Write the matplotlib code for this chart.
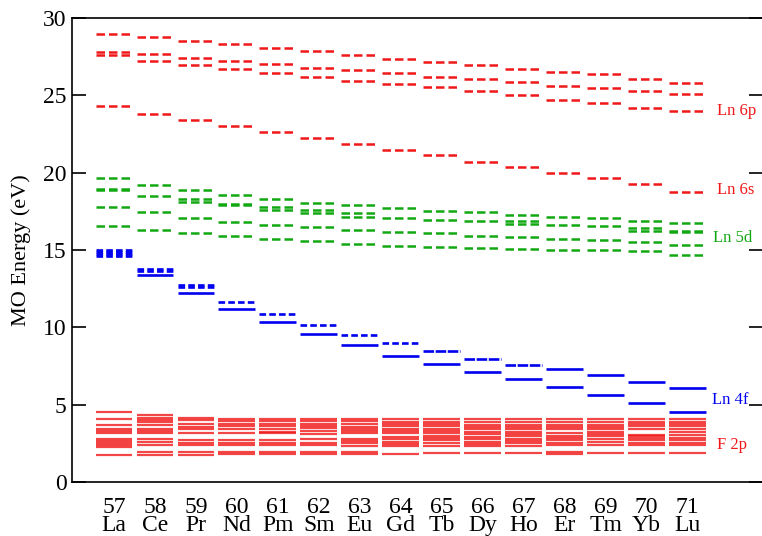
import matplotlib
matplotlib.use("Agg")
import matplotlib.pyplot as plt
import numpy as np

plt.rcParams['font.family'] = ['Liberation Serif', 'DejaVu Serif']

# element numbers and symbols
numbers = [57, 58, 59, 60, 61, 62, 63, 64, 65, 66, 67, 68, 69, 70, 71]
symbols = ['La', 'Ce', 'Pr', 'Nd', 'Pm', 'Sm', 'Eu', 'Gd', 'Tb', 'Dy', 'Ho', 'Er', 'Tm', 'Yb', 'Lu']

# Ln 6p levels (eV)
ln6p = [
    [28.96, 27.82, 27.6],
    [28.79, 27.65, 27.19],
    [28.53, 27.39, 26.96],
    [28.29, 27.19, 26.70],
    [28.03, 27.04, 26.46],
    [27.86, 26.78, 26.20],
    [27.62, 26.61, 25.94],
    [27.37, 26.46, 25.71],
    [27.13, 26.20, 25.53],
    [26.98, 26.03, 25.29],
    [26.70, 25.88, 25.04],
    [26.52, 25.62, 24.71],
    [26.35, 25.45, 24.48],
    [26.03, 25.27, 24.19],
    [25.81, 25.08, 24.00],
]

# Ln 6s levels
ln6s = [24.30, 23.79, 23.38, 23.03, 22.62, 22.22, 21.87, 21.46, 21.12,
        20.69, 20.38, 19.95, 19.63, 19.24, 18.77]

# Ln 5d levels
ln5d = [
    [19.63, 18.95, 18.88, 17.80, 16.55],
    [19.22, 18.51, 17.43, 16.31],
    [18.88, 18.30, 18.12, 17.05, 16.08],
    [18.55, 17.98, 17.92, 16.83, 15.90],
    [18.29, 17.78, 17.60, 16.63, 15.73],
    [18.06, 17.56, 17.38, 16.46, 15.60],
    [17.91, 17.36, 17.16, 16.29, 15.38],
    [17.69, 17.09, 16.14, 15.28],
    [17.52, 16.94, 16.08, 15.21],
    [17.43, 16.87, 15.90, 15.15],
    [17.26, 16.87, 16.71, 15.82, 15.06],
    [17.15, 16.59, 15.73, 15.00],
    [17.05, 16.55, 15.64, 15.00],
    [16.89, 16.43, 16.23, 15.53, 14.91],
    [16.76, 16.22, 16.14, 15.32, 14.67],
]

# Ln 4f levels: upper (dashed-looking) and lower (solid)
ln4f_upper = [
    [15.00, 14.88, 14.75, 14.62],
    [13.75, 13.62],
    [12.72, 12.60],
    [11.66],
    [10.88],
    [10.15],
    [9.48],
    [8.97],
    [8.49],
    [7.93],
    [7.56],
    [7.28],
    [6.92],
    [6.48],
    [6.06],
]
ln4f_lower = [
    [],
    [13.38],
    [12.20],
    [11.20],
    [10.34],
    [9.55],
    [8.84],
    [8.14],
    [7.63],
    [7.09],
    [6.64],
    [6.12],
    [5.62],
    [5.13],
    [4.55],
]

# F 2p levels
f2p = [
    [4.55, 4.05, 3.70, 3.40, 3.28, 3.15, 2.78, 2.65, 2.52, 2.40, 2.28, 1.75],
    [4.35, 4.15, 4.00, 3.85, 3.68, 3.45, 3.30, 3.20, 2.75, 2.60, 2.40, 1.92, 1.75],
    [4.15, 4.00, 3.72, 3.55, 3.40, 3.20, 2.72, 2.55, 2.40, 1.92, 1.75],
    [4.05, 3.95, 3.78, 3.60, 3.42, 3.20, 2.72, 2.55, 2.40, 1.95, 1.80],
    [4.05, 3.95, 3.78, 3.60, 3.45, 3.25, 3.20, 2.72, 2.55, 2.40, 1.95, 1.80],
    [4.05, 3.92, 3.78, 3.65, 3.50, 3.30, 3.10, 2.75, 2.55, 2.40, 1.95, 1.80],
    [4.05, 3.95, 3.75, 3.55, 3.45, 3.30, 3.15, 2.80, 2.65, 2.50, 2.35, 1.95, 1.80],
    [4.05, 3.90, 3.75, 3.60, 3.45, 3.30, 3.15, 2.90, 2.75, 2.60, 2.45, 2.30, 1.80],
    [4.05, 3.90, 3.75, 3.60, 3.45, 3.30, 3.15, 3.00, 2.85, 2.70, 2.55, 2.35, 1.85],
    [4.05, 3.85, 3.70, 3.55, 3.40, 3.25, 3.10, 2.90, 2.75, 2.60, 2.45, 2.30, 1.85],
    [4.05, 3.85, 3.70, 3.55, 3.40, 3.25, 3.10, 2.95, 2.80, 2.65, 2.50, 2.30, 1.85],
    [4.05, 3.85, 3.70, 3.55, 3.40, 3.20, 3.00, 2.85, 2.70, 2.55, 2.40, 1.92, 1.80],
    [4.05, 3.85, 3.70, 3.55, 3.40, 3.25, 3.10, 2.95, 2.80, 2.60, 2.40, 1.85],
    [4.05, 3.90, 3.75, 3.60, 3.45, 3.05, 2.95, 2.85, 2.70, 2.55, 2.40, 1.85],
    [4.05, 3.90, 3.75, 3.60, 3.45, 3.25, 3.05, 2.85, 2.70, 2.55, 2.40, 1.85],
]

# group labels on the right
group_names = ['Ln 6p', 'Ln 6s', 'Ln 5d', 'Ln 4f', 'F 2p']
group_label_y = [24.0, 18.9, 15.8, 5.3, 2.4]

RED = '#f01818'
GREEN = '#12a812'
BLUE = '#0000f0'
group_colors = [RED, RED, GREEN, BLUE, RED]
group_label_x = [14.72, 14.72, 14.62, 14.6, 14.72]

dash = (0, (3.4, 1.6))
half = 0.45

fig = plt.figure(figsize=(7.62, 5.36), dpi=100)
ax = fig.add_axes([72 / 762, 54 / 536, 691 / 762, 464 / 536])


def draw(i, levels, color, ls, lw, alpha=1.0):
    for e in levels:
        ax.hlines(e, i - half, i + half, colors=color, linestyles=ls, lw=lw, alpha=alpha)


for i in range(len(symbols)):
    draw(i, ln6p[i], RED, dash, 1.8)
    draw(i, [ln6s[i]], RED, dash, 1.8)
    draw(i, ln5d[i], GREEN, dash, 1.8)
    if i <= 7:
        up_ls = (0, (2.5, 1.2))
    elif i <= 10:
        up_ls = (0, (4, 0.6))
    else:
        up_ls = '-'
    draw(i, ln4f_upper[i], BLUE, up_ls, 1.9)
    draw(i, ln4f_lower[i], BLUE, '-', 1.9)
    draw(i, f2p[i], RED, '-', 1.6, alpha=0.8)

for name, yy, xx, c in zip(group_names, group_label_y, group_label_x, group_colors):
    ax.text(xx, yy, name, color=c, fontsize=12, va='center', ha='left')

ax.set_xlim(-1.025, 15.84)
ax.set_ylim(0, 30)
ax.set_yticks([0, 5, 10, 15, 20, 25, 30])
ax.tick_params(axis='y', direction='in', length=10, width=1.2, labelsize=17, pad=4,
               right=True)
ax.set_xticks(range(len(symbols)))
ax.set_xticklabels([f"{n}\n{s}" for n, s in zip(numbers, symbols)], fontsize=17)
ax.tick_params(axis='x', length=0, pad=11)
plt.setp(ax.get_xticklabels(), linespacing=0.82)

for sp in ax.spines.values():
    sp.set_linewidth(1.2)

ax.set_ylabel('MO Energy (eV)', fontsize=16)
ax.yaxis.set_label_coords(-0.060, 0.5)

fig.savefig('out.png', dpi=100)
